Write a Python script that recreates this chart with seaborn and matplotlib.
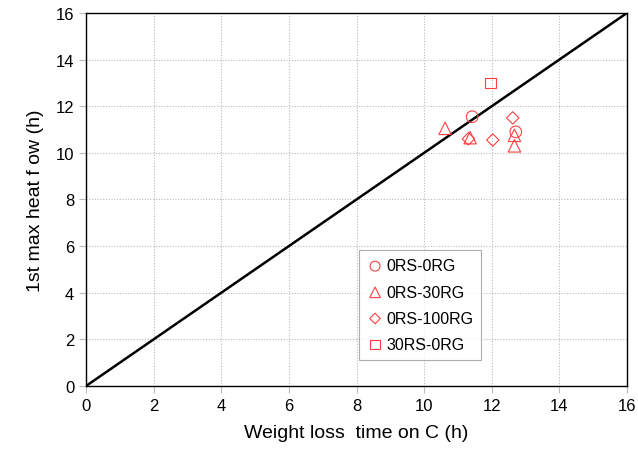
import matplotlib
matplotlib.use("Agg")
import matplotlib.pyplot as plt
import seaborn as sns
import pandas as pd
import numpy as np

series = ["0RS-0RG", "0RS-30RG", "0RS-100RG", "30RS-0RG"]
x_c = [11.42, 12.71]
y_c = [11.55, 10.9]
x_t = [10.62, 11.36, 12.67, 12.67]
y_t = [11.05, 10.65, 10.75, 10.3]
x_d = [11.31, 12.03, 12.62]
y_d = [10.6, 10.55, 11.5]
x_s = [11.97]
y_s = [13.0]

df = pd.DataFrame({
    "x": x_c + x_t + x_d + x_s,
    "y": y_c + y_t + y_d + y_s,
    "series": [series[0]] * len(x_c) + [series[1]] * len(x_t) + [series[2]] * len(x_d) + [series[3]] * len(x_s),
})

sns.set_style("white")
plt.rcParams['font.family'] = ['Liberation Sans', 'DejaVu Sans']
plt.rcParams['text.color'] = 'black'
plt.rcParams['axes.labelcolor'] = 'black'
plt.rcParams['xtick.color'] = 'black'
plt.rcParams['ytick.color'] = 'black'

fig = plt.figure(figsize=(6.38, 4.6), dpi=100)
ax = fig.add_axes([0.1348, 0.1587, 0.848, 0.811])

red = "#ff4040"
markers = {series[0]: "o", series[1]: "^", series[2]: "D", series[3]: "s"}
sizes = {series[0]: 70, series[1]: 80, series[2]: 40, series[3]: 60}
for s in series:
    sub = df[df.series == s]
    sns.scatterplot(data=sub, x="x", y="y", marker=markers[s], s=sizes[s],
                    facecolor="none", edgecolor=red, linewidth=0.8, ax=ax, label=s, zorder=3)

line = [0, 16]
ax.plot(line, line, color="black", linewidth=1.8, zorder=2)

ax.set_xlim(0, 16)
ax.set_ylim(0, 16)
ticks = np.arange(0, 17, 2)
ax.set_xticks(ticks)
ax.set_yticks(ticks)
ax.tick_params(axis="both", labelsize=12, direction="out", length=5, color="#bbbbbb", width=0.8,
               labelcolor="black", bottom=True, left=True)
ax.grid(True, color="#bbbbbb", linestyle=(0, (1, 1.5)), linewidth=0.8)
for sp in ax.spines.values():
    sp.set_color("black")
    sp.set_linewidth(1.0)
ax.set_xlabel("Weight loss  time on C (h)", fontsize=14, labelpad=8, color="black")
ax.set_ylabel("1st max heat f ow (h)", fontsize=14, labelpad=8, color="black")

leg = ax.legend(loc="upper left", bbox_to_anchor=(0.49, 0.385), fontsize=11.5, frameon=True,
                fancybox=False, edgecolor="#999999", handletextpad=0.2, handlelength=1.0,
                borderpad=0.5, borderaxespad=0.5, labelspacing=0.7, markerscale=0.85)
leg._legend_box.align = "left"
leg.get_frame().set_linewidth(0.8)
for t in leg.get_texts():
    t.set_color("black")

fig.canvas.draw()
# widen frame slightly on the right to match reference box
bb = leg.get_frame()
bb.set_width(bb.get_width() + 6)

fig.savefig("out.png", dpi=100)
